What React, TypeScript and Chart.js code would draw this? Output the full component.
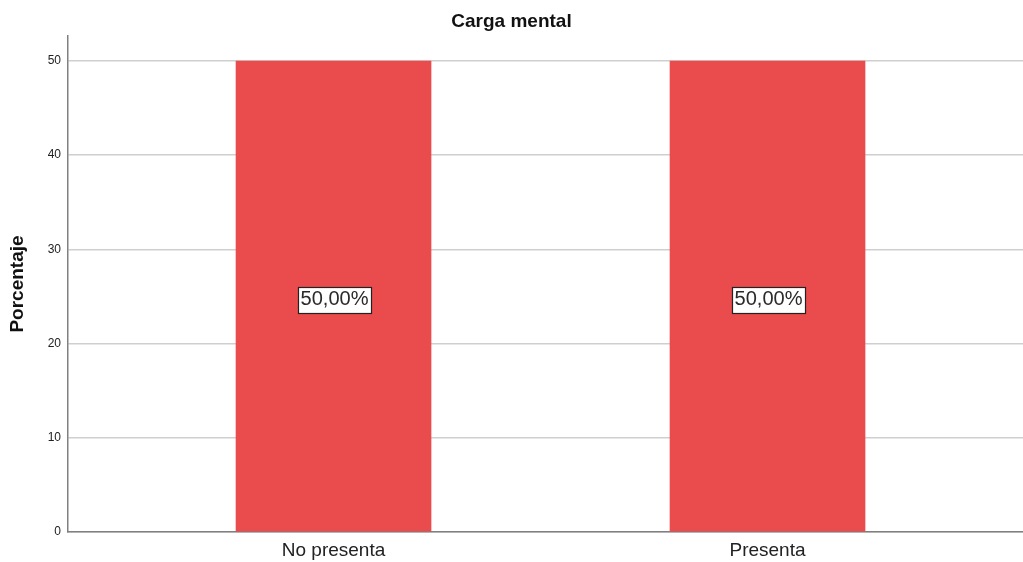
import React, { useEffect, useRef } from "react";
import { Chart, registerables } from "chart.js";

Chart.register(...registerables);

const categories = ["No presenta", "Presenta"];
const values = [50, 50];
const valueLabels = ["50,00%", "50,00%"];
const yTicks = [0, 10, 20, 30, 40, 50];
const chartTitle = "Carga mental";
const yTitle = "Porcentaje";

const FONT = "Arial, 'Liberation Sans', sans-serif";

const labelPlugin = {
  id: "boxLabels",
  afterDatasetsDraw(chart: any) {
    const ctx = chart.ctx;
    const meta = chart.getDatasetMeta(0);
    const yScale = chart.scales.y;
    ctx.save();
    ctx.font = `20px ${FONT}`;
    ctx.textAlign = "center";
    ctx.textBaseline = "middle";
    meta.data.forEach((el: any, i: number) => {
      const text = valueLabels[i];
      const x = el.x + 1;
      const y = yScale.getPixelForValue(values[i] / 2) + 3.5;
      const raw = ctx.measureText(text).width;
      const sx = 68 / raw;
      const w = 73;
      const h = 26;
      ctx.fillStyle = "#ffffff";
      ctx.fillRect(x - w / 2, y - h / 2, w, h);
      ctx.strokeStyle = "#222222";
      ctx.lineWidth = 1.2;
      ctx.strokeRect(Math.round(x - w / 2) + 0.5, Math.round(y - h / 2) + 0.5, w, h);
      ctx.fillStyle = "#2a2a2a";
      ctx.save();
      ctx.translate(x, y);
      ctx.scale(sx, 1);
      ctx.fillText(text, 0, 0);
      ctx.restore();
    });
    ctx.restore();
  },
};

export default function App() {
  const ref = useRef<HTMLCanvasElement>(null);
  useEffect(() => {
    document.body.style.margin = "0";
    const chart = new Chart(ref.current as HTMLCanvasElement, {
      type: "bar",
      data: {
        datasets: [
          {
            data: values.map((v, i) => ({ x: i, y: v })),
            backgroundColor: "#EA4B4C",
            borderWidth: 0,
            barThickness: 195,
          },
        ],
      },
      plugins: [labelPlugin],
      options: {
        responsive: false,
        animation: false,
        layout: { padding: { left: 0, right: 0, top: 0, bottom: 0 } },
        plugins: {
          legend: { display: false },
          tooltip: { enabled: false },
          title: {
            display: true,
            text: chartTitle,
            color: "#111111",
            font: { family: FONT, size: 19, weight: "bold" },
            padding: { top: 10.6, bottom: 2.6 },
          },
        },
        scales: {
          x: {
            type: "linear",
            offset: false,
            bounds: "data",
            min: -0.6118,
            max: 1.5887,
            afterBuildTicks: (scale: any) => {
              scale.ticks = categories.map((_, i) => ({ value: i }));
            },
            afterFit: (scale: any) => {
              scale.height = 30;
            },
            ticks: {
              callback: (v: any) => categories[v as number] ?? "",
              color: "#222222",
              font: { family: FONT, size: 19 },
              padding: 7.5,
              maxRotation: 0,
              autoSkip: false,
            },
            grid: { display: false, drawTicks: false, offset: false },
            border: { display: true, color: "#808080", width: 1.5 },
          },
          y: {
            min: 0,
            max: 52.65,
            afterBuildTicks: (scale: any) => {
              scale.ticks = yTicks.map((v) => ({ value: v }));
            },
            afterFit: (scale: any) => {
              scale.width = 68;
            },
            ticks: {
              color: "#222222",
              font: { family: FONT, size: 12 },
              padding: 7,
            },
            grid: { color: "#cfcfcf", lineWidth: 1.5, drawTicks: false },
            border: { display: true, color: "#808080", width: 1.5 },
            title: {
              display: true,
              text: yTitle,
              color: "#111111",
              font: { family: FONT, size: 19, weight: "bold" },
              padding: { top: 6, bottom: 0 },
            },
          },
        },
      },
    } as any);
    return () => chart.destroy();
  }, []);
  return (
    <div style={{ width: 1023, height: 562, background: "#fff" }}>
      <canvas ref={ref} width={1023} height={562} style={{ display: "block" }} />
    </div>
  );
}
